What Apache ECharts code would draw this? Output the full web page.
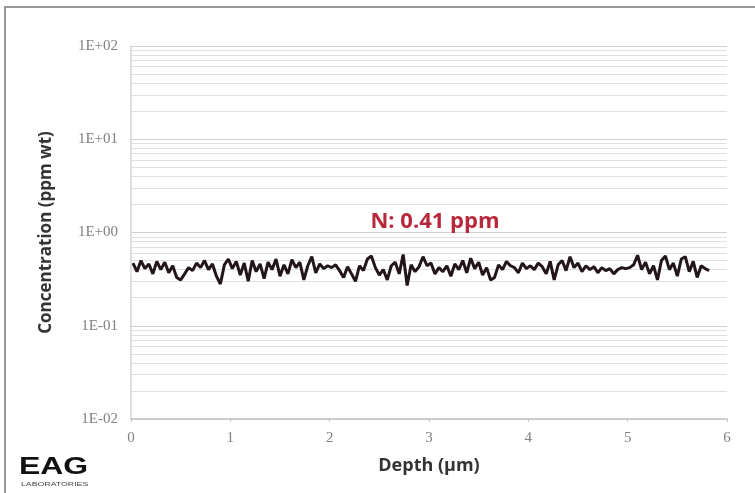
<!DOCTYPE html>
<html>
<head>
<meta charset="utf-8">
<script src="https://cdn.jsdelivr.net/npm/echarts@6/dist/echarts.min.js"></script>
<style>html,body{margin:0;padding:0;background:#fff;}#c{width:755px;height:493px;}</style>
</head>
<body>
<div id="c"></div>
<script>
const depth = [0.02,0.06,0.10,0.14,0.18,0.22,0.26,0.30,0.34,0.38,0.42,0.46,0.50,0.54,0.58,0.62,0.66,0.70,0.74,0.78,0.82,0.86,0.90,0.94,0.98,
1.02,1.06,1.10,1.14,1.18,1.22,1.26,1.30,1.34,1.38,1.42,1.46,1.50,1.54,1.58,1.62,1.66,1.70,1.74,1.78,1.82,1.86,1.90,1.94,1.98,
2.02,2.06,2.10,2.14,2.18,2.22,2.26,2.30,2.34,2.38,2.42,2.46,2.50,2.54,2.58,2.62,2.66,2.70,2.74,2.78,2.82,2.86,2.90,2.94,2.98,
3.02,3.06,3.10,3.14,3.18,3.22,3.26,3.30,3.34,3.38,3.42,3.46,3.50,3.54,3.58,3.62,3.66,3.70,3.74,3.78,3.82,3.86,3.90,3.94,3.98,
4.02,4.06,4.10,4.14,4.18,4.22,4.26,4.30,4.34,4.38,4.42,4.46,4.50,4.54,4.58,4.62,4.66,4.70,4.74,4.78,4.82,4.86,4.90,4.94,4.98,
5.02,5.06,5.10,5.14,5.18,5.22,5.26,5.30,5.34,5.38,5.42,5.46,5.50,5.54,5.58,5.62,5.66,5.70,5.74,5.78,5.82];
const conc = [0.47,0.38,0.50,0.41,0.46,0.36,0.49,0.40,0.48,0.37,0.44,0.33,0.31,0.36,0.42,0.39,0.47,0.42,0.50,0.40,0.46,0.34,0.28,0.45,0.52,
0.41,0.49,0.35,0.47,0.30,0.50,0.38,0.46,0.32,0.48,0.40,0.52,0.34,0.45,0.36,0.51,0.42,0.48,0.31,0.44,0.55,0.37,0.46,0.41,0.44,
0.42,0.45,0.39,0.33,0.43,0.36,0.30,0.44,0.39,0.52,0.56,0.42,0.35,0.40,0.31,0.44,0.48,0.36,0.58,0.27,0.45,0.38,0.43,0.55,0.44,
0.47,0.36,0.42,0.38,0.44,0.34,0.46,0.40,0.50,0.37,0.53,0.41,0.48,0.35,0.42,0.31,0.33,0.45,0.40,0.49,0.44,0.42,0.37,0.47,0.41,
0.44,0.40,0.47,0.43,0.36,0.49,0.31,0.45,0.50,0.39,0.55,0.42,0.47,0.38,0.44,0.40,0.43,0.37,0.42,0.39,0.41,0.36,0.40,0.42,0.41,
0.42,0.45,0.57,0.40,0.48,0.36,0.44,0.31,0.50,0.56,0.40,0.47,0.34,0.52,0.55,0.38,0.49,0.33,0.44,0.41,0.39];
const yTickLabels = {0.01:'1E-02',0.1:'1E-01',1:'1E+00',10:'1E+01',100:'1E+02'};
const titleText = 'N: 0.41 ppm';
const xName = 'Depth (\u00b5m)';
const yName = 'Concentration (ppm wt)';

const chart = echarts.init(document.getElementById('c'));
chart.setOption({
  animation: false,
  backgroundColor: '#fff',
  title: {
    text: titleText, left: 430, top: 206, textAlign: 'center',
    textStyle: {color: '#b8283b', fontSize: 22, fontWeight: 'bold', fontFamily: 'Open Sans'}
  },
  grid: {left: 131, right: 28, top: 46, bottom: 74},
  xAxis: {
    type: 'value', min: 0, max: 6, interval: 1,
    name: xName, nameLocation: 'middle', nameGap: 38,
    nameTextStyle: {color: '#333', fontSize: 18, fontWeight: 'bold', fontFamily: 'Open Sans'},
    axisLine: {show: true, lineStyle: {color: '#c4c4c4', width: 1.5}},
    axisTick: {show: true, length: 3, lineStyle: {color: '#c4c4c4'}},
    axisLabel: {color: '#808080', fontSize: 15, fontFamily: 'Liberation Serif', margin: 12},
    splitLine: {show: false}
  },
  yAxis: {
    type: 'log', min: 0.01, max: 100, logBase: 10,
    name: yName, nameLocation: 'middle', nameGap: 76,
    nameTextStyle: {color: '#333', fontSize: 17, fontWeight: 'bold', fontFamily: 'Open Sans'},
    axisLine: {show: true, lineStyle: {color: '#d4d4d4', width: 1.5}},
    axisTick: {show: false},
    axisLabel: {color: '#808080', fontSize: 15, fontFamily: 'Liberation Serif', margin: 13,
      formatter: v => yTickLabels[v] || ''},
    splitLine: {show: true, lineStyle: {color: '#d0d0d0', width: 1}},
    minorTick: {show: false, splitNumber: 9},
    minorSplitLine: {show: true, lineStyle: {color: '#e0e0e0', width: 1}}
  },
  series: [{
    type: 'line', showSymbol: false, symbol: 'none',
    data: depth.map((d, i) => [d, conc[i]]),
    lineStyle: {color: '#23161a', width: 3},
    z: 5
  }],
  graphic: [
    {type: 'rect', shape: {x: 5, y: 7, width: 800, height: 600},
     style: {fill: 'none', stroke: '#9a9a9a', lineWidth: 2}, silent: true},
    {type: 'text', x: 19, y: 455, scaleX: 1.33,
     style: {text: 'EAG', fill: '#111', font: 'bold 24px "Liberation Sans"'}},
    {type: 'text', x: 21, y: 482, scaleX: 1.75,
     style: {text: 'LABORATORIES', fill: '#444', font: '5px "Liberation Sans"'}}
  ]
});
</script>
</body>
</html>
